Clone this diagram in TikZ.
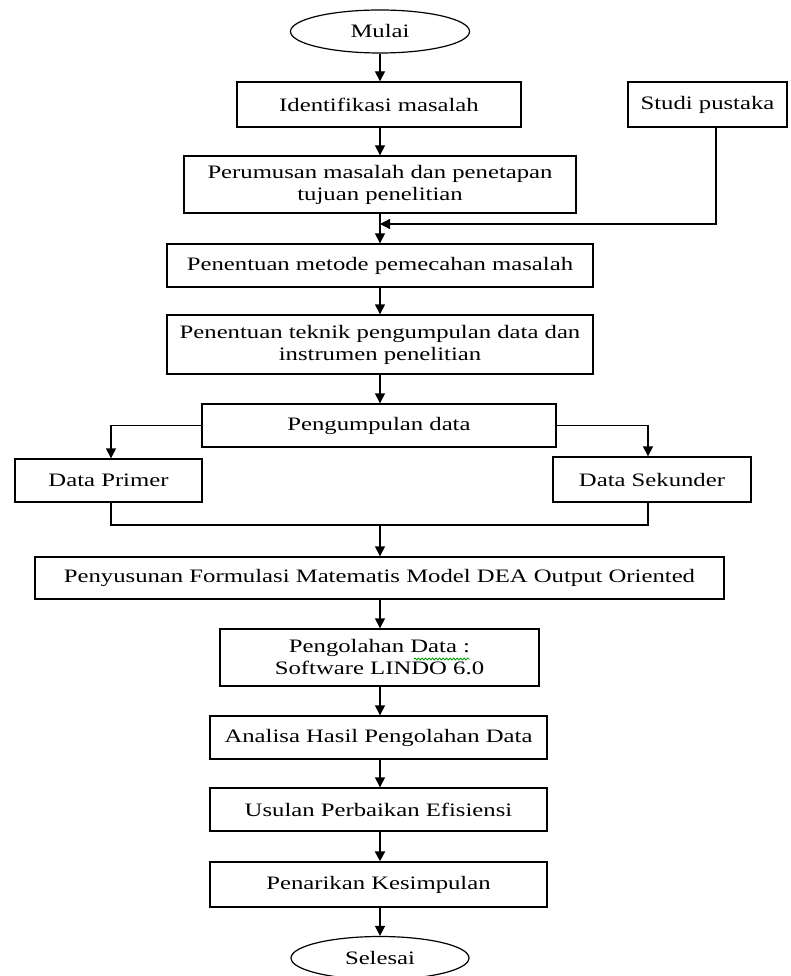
\documentclass[tikz,border=0pt]{standalone}
\usepackage{fontspec}
\setmainfont[FakeStretch=1.3]{Liberation Serif}
\usetikzlibrary{arrows.meta,shapes.geometric,decorations.pathmorphing,calc}
\begin{document}
\begin{tikzpicture}[x=1pt,y=-1pt,
  every node/.style={font=\fontsize{19}{22}\selectfont, text=black},
  box/.style={draw, line width=1.4pt, rectangle, inner sep=0pt, align=center},
  term/.style={draw, line width=1.2pt, ellipse, inner sep=0pt},
  conn/.style={line width=1.4pt},
  arr/.style={line width=1.4pt, -{Triangle[length=10pt,width=10pt]}}]
\useasboundingbox (0,0) rectangle (791,976);
\fill[white] (0,0) rectangle (791,976);

\node[term, minimum width=179pt, minimum height=43pt] (mulai) at (380,31.5) {Mulai};
\node[box, minimum width=284pt, minimum height=45pt] (iden) at (379,104.5) {Identifikasi masalah};
\node[box, minimum width=159pt, minimum height=45pt] (studi) at (707.5,104.5) {Studi pustaka};
\node[box, minimum width=392pt, minimum height=57pt] (rumus) at (380,184.5) {Perumusan masalah dan penetapan\\tujuan penelitian};
\node[box, minimum width=426pt, minimum height=43pt] (metode) at (380,265.5) {Penentuan metode pemecahan masalah};
\node[box, minimum width=426pt, minimum height=59pt] (teknik) at (380,344.5) {Penentuan teknik pengumpulan data dan\\instrumen penelitian};
\node[box, minimum width=354pt, minimum height=43pt] (kumpul) at (379,425.5) {Pengumpulan data};
\node[box, minimum width=187pt, minimum height=43pt] (primer) at (108.5,480.5) {Data Primer};
\node[box, minimum width=198pt, minimum height=45pt] (sekunder) at (652,479.5) {Data Sekunder};
\node[box, minimum width=689pt, minimum height=42pt] (susun) at (379.5,578) {Penyusunan Formulasi Matematis Model DEA Output Oriented};
\node[box, minimum width=319pt, minimum height=57pt] (olah) at (379.5,657.5) {Pengolahan Data :\\Software LINDO 6.0};
\node[box, minimum width=337pt, minimum height=43pt] (analisa) at (378.5,737.5) {Analisa Hasil Pengolahan Data};
\node[box, minimum width=337pt, minimum height=43pt] (usulan) at (378.5,809.5) {Usulan Perbaikan Efisiensi};
\node[box, minimum width=337pt, minimum height=45pt] (tarik) at (378.5,884.5) {Penarikan Kesimpulan};
\node[term, minimum width=178pt, minimum height=43pt] (selesai) at (380,958) {Selesai};

% spell-check squiggle
\draw[green!60!black, line width=0.8pt, decorate, decoration={snake, amplitude=1pt, segment length=3.5pt}] (414,659) -- (470,659);

% coordinates
\coordinate (sx) at (716,0);
\coordinate (mx) at (380,0);
\coordinate (lx) at (111,0);
\coordinate (rx) at (648,0);
\coordinate (jy) at (0,525);
\coordinate (sy) at (0,224);
\coordinate (join) at (380,525);

% main chain
\draw[arr] (mulai.south -| mx) -- (iden.north -| mx);
\draw[arr] (iden.south -| mx) -- (rumus.north -| mx);
\draw[arr] (rumus.south -| mx) -- (metode.north -| mx);
\draw[arr] (studi.south -| sx) -- (sx |- sy) -- (mx |- sy);
\draw[arr] (metode.south -| mx) -- (teknik.north -| mx);
\draw[arr] (teknik.south -| mx) -- (kumpul.north -| mx);
\draw[arr] (kumpul.west) -- (lx |- kumpul.west) -- (primer.north -| lx);
\draw[arr] (kumpul.east) -- (rx |- kumpul.east) -- (sekunder.north -| rx);
\draw[conn] (primer.south -| lx) -- (lx |- jy) -- (rx |- jy) -- (sekunder.south -| rx);
\draw[arr] (join) -- (susun.north -| join);
\draw[arr] (susun.south -| mx) -- (olah.north -| mx);
\draw[arr] (olah.south -| mx) -- (analisa.north -| mx);
\draw[arr] (analisa.south -| mx) -- (usulan.north -| mx);
\draw[arr, line width=2.4pt] (usulan.south -| mx) -- (tarik.north -| mx);
\draw[arr] (tarik.south -| mx) -- (selesai.north -| mx);
\end{tikzpicture}
\end{document}
